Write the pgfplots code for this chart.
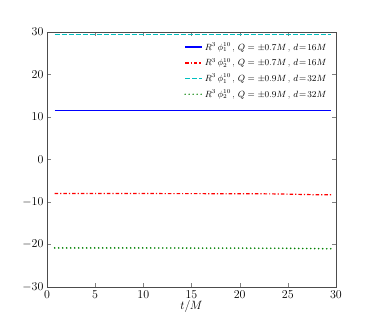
\documentclass[border=0pt]{standalone}
\usepackage{pgfplots}
\pgfplotsset{compat=1.18}
\definecolor{mplred}{rgb}{1,0,0}
\definecolor{mplblue}{rgb}{0,0,1}
\definecolor{mplcyan}{rgb}{0,0.75,0.75}
\definecolor{mplgreen}{rgb}{0,0.5,0}

\begin{document}
\begin{tikzpicture}
\begin{axis}[
    scale only axis,
    width=289pt, height=255pt,
    xmin=0, xmax=30, ymin=-30, ymax=30,
    xtick={0,5,...,30}, ytick={-30,-20,...,30},
    tick align=inside, tick pos=both,
    major tick length=4pt,
    xlabel={$t/M$},
    xlabel style={yshift=5pt, font=\large},
    tick label style={font=\large},
    legend style={draw=none, fill=none, font=\fontsize{8.6}{10}\selectfont,
        at={(0.985,0.975)}, anchor=north east, row sep=2.5pt},
    legend image post style={line width=1.5pt},
    legend cell align=left,
    axis line style={black!70}
]
\addplot[mplblue, line width=1.2pt] coordinates {
(0.8,11.5) (5,11.5) (10,11.5) (15,11.5) (20,11.5) (25,11.5) (29.5,11.5)
};
\addplot[mplred, line width=1.2pt, dash pattern=on 3.5pt off 2pt on 1.2pt off 2pt] coordinates {
(0.8,-8.0) (5,-8.01) (10,-8.02) (15,-8.03) (20,-8.05) (24,-8.1) (26,-8.2) (28,-8.3) (29.5,-8.3)
};
\addplot[mplcyan, line width=1.2pt, dash pattern=on 5pt off 2pt] coordinates {
(0.8,29.4) (5,29.4) (10,29.4) (15,29.4) (20,29.4) (25,29.4) (29.5,29.4)
};
\addplot[mplgreen, line width=1.8pt, line cap=round, dash pattern=on 0pt off 4pt] coordinates {
(0.8,-20.8) (5,-20.8) (10,-20.8) (15,-20.85) (20,-20.85) (25,-20.9) (29.5,-21.0)
};
\legend{
{$R^3\,\phi_1^{10}$\,, $Q=\pm0.7M$\,, $d\!=\!16M$},
{$R^3\,\phi_2^{10}$\,, $Q=\pm0.7M$\,, $d\!=\!16M$},
{$R^3\,\phi_1^{10}$\,, $Q=\pm0.9M$\,, $d\!=\!32M$},
{$R^3\,\phi_2^{10}$\,, $Q=\pm0.9M$\,, $d\!=\!32M$}}
\end{axis}
\path (current axis.south west) ++(-47pt,-33pt) (current axis.north east) ++(38pt,32pt);
\end{tikzpicture}
\end{document}
